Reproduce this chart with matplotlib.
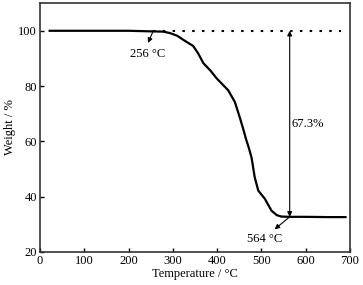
import matplotlib
matplotlib.use('Agg')
import matplotlib.pyplot as plt

# TGA curve
temp = [22, 100, 200, 248, 278, 293, 310, 324, 346, 357, 369, 385, 399, 425, 440, 451,
        459, 466, 472, 478, 485, 493, 508, 523, 535, 545, 564, 600, 650, 690]
weight = [100.0, 100.0, 100.0, 99.8, 99.7, 99.2, 98.2, 96.7, 94.5, 91.9, 88.3, 85.6, 82.8,
          78.5, 74.3, 68.8, 64.5, 60.5, 57.5, 54.0, 47.0, 42.2, 39.2, 34.9, 33.3, 32.8,
          32.7, 32.7, 32.6, 32.6]
onset_t, onset_w = 256, 100.0
end_t, end_w = 564, 32.7
loss_label = '67.3%'

plt.rcParams['font.family'] = ['Liberation Serif', 'DejaVu Serif']
plt.rcParams['font.size'] = 9
plt.rcParams['mathtext.fontset'] = 'stix'

fig = plt.figure(figsize=(3.63, 2.85), dpi=100)
ax = fig.add_axes([0.110, 0.116, 0.854, 0.873])

ax.plot(temp, weight, color='black', lw=1.6)
# dotted baseline at 100 %
ax.plot([onset_t, 680], [100, 100], color='black', lw=1.5, ls=(0, (1.2, 3.5)))
# double arrow for the mass loss
ax.annotate('', xy=(end_t, onset_w), xytext=(end_t, end_w),
            arrowprops=dict(arrowstyle='<|-|>', color='black', lw=0.8,
                            mutation_scale=7, shrinkA=0, shrinkB=0))
ax.text(end_t + 5, 66.2, loss_label, ha='left', va='center')

ax.annotate('', xy=(244, 95.6), xytext=(onset_t, onset_w),
            arrowprops=dict(arrowstyle='-|>', color='black', lw=0.8,
                            mutation_scale=7, shrinkA=0, shrinkB=0))
ax.text(244, 91.5, '256 °C', ha='center', va='center')
ax.annotate('', xy=(530, 28.2), xytext=(end_t, end_w),
            arrowprops=dict(arrowstyle='-|>', color='black', lw=0.8,
                            mutation_scale=7, shrinkA=0, shrinkB=0))
ax.text(508, 24.6, '564 °C', ha='center', va='center')

ax.set_xlim(0, 700)
ax.set_ylim(20, 110)
ax.set_xticks(range(0, 701, 100))
ax.set_yticks(range(20, 101, 20))
ax.tick_params(direction='in', length=3, width=1, pad=2)
for s in ax.spines.values():
    s.set_linewidth(1.2)
    s.set_color('#333333')
ax.set_xlabel('Temperature / °C', labelpad=1)
ax.set_ylabel('Weight / %', labelpad=2)

fig.savefig('out.png', dpi=100)
